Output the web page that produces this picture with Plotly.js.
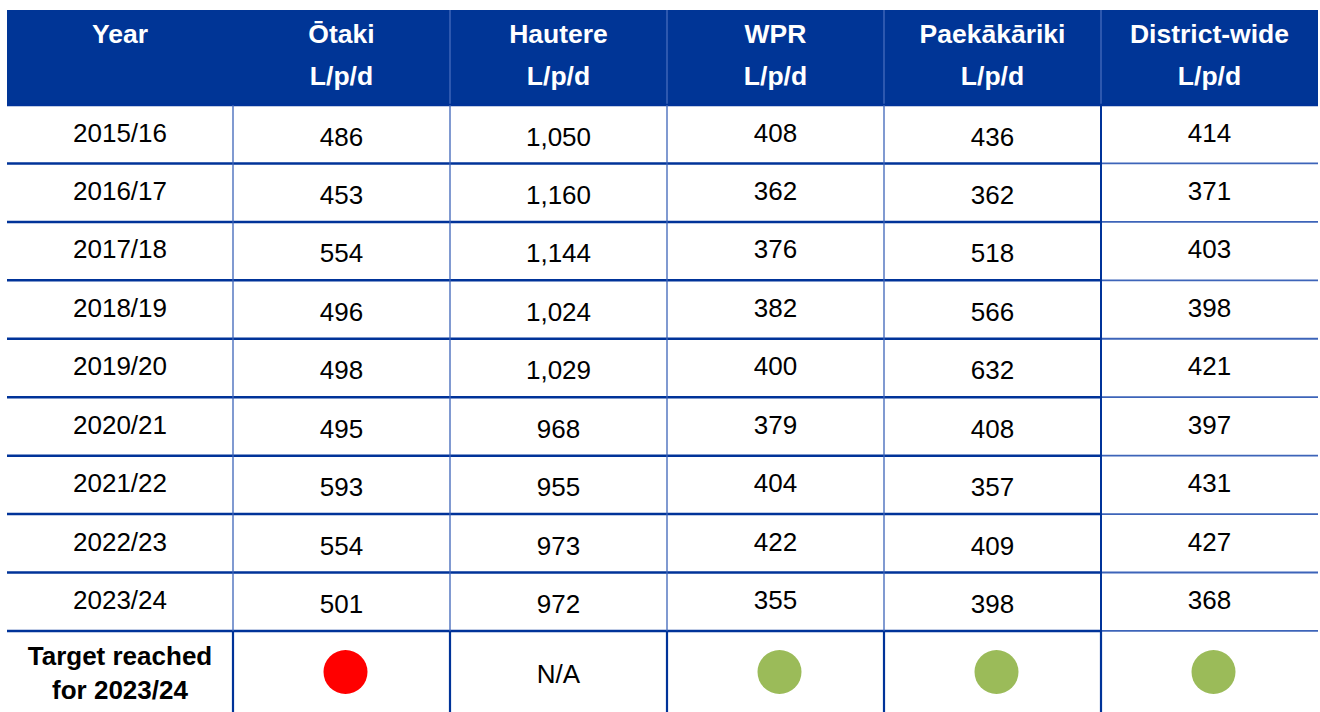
<!DOCTYPE html>
<html><head><meta charset="utf-8">
<script src="https://cdn.plot.ly/plotly-3.0.1.min.js"></script>
<style>html,body{margin:0;padding:0;background:#fff;}#chart{width:1320px;height:712px;}</style>
</head><body><div id="chart"></div>
<script>
// ---- data ----
const columns = ["Year", "Ōtaki", "Hautere", "WPR", "Paekākāriki", "District-wide"];
const units = ["", "L/p/d", "L/p/d", "L/p/d", "L/p/d", "L/p/d"];
const years = ["2015/16", "2016/17", "2017/18", "2018/19", "2019/20", "2020/21", "2021/22", "2022/23", "2023/24"];
const otaki = [486, 453, 554, 496, 498, 495, 593, 554, 501];
const hautere = [1050, 1160, 1144, 1024, 1029, 968, 955, 973, 972];
const wpr = [408, 362, 376, 382, 400, 379, 404, 422, 355];
const paekakariki = [436, 362, 518, 566, 632, 408, 357, 409, 398];
const districtWide = [414, 371, 403, 398, 421, 397, 431, 427, 368];
const targetLabel = "Target reached<br>for 2023/24";
const targetStatus = ["no", "N/A", "yes", "yes", "yes"]; // Ōtaki, Hautere, WPR, Paekākāriki, District-wide

// ---- style / geometry ----
const W = 1320, H = 712;
const X0 = 7;
const colW = [226, 217, 217, 217, 217, 217];
const HEAD_TOP = 10, HEAD_H = 95, ROW_H = 58.44, LAST_H = 110;
const FS = 26, HFS = 26.5;
const FONT = "Liberation Sans, Arial, sans-serif";
const HEAD_FILL = "#003596";
const DARK = "#003399", LIGHT = "#3d64b9", HEAD_LINE = "#5a7cc8";
const GREEN = "#9BBB59", RED = "#FF0000";
const baseOff = [36.5, 40.5, 40.5, 36.5, 40.5, 36.5]; // text baseline offset within row per column

const edges = [X0];
colW.forEach(w => edges.push(edges[edges.length - 1] + w));
const centers = colW.map((w, i) => edges[i] + w / 2);
const bodyTop = HEAD_TOP + HEAD_H;
const rowTop = i => bodyTop + i * ROW_H;
const lastTop = rowTop(years.length);
const yFromBaseline = (b, fs) => b - 0.25 * fs;

const fmt = v => v.toLocaleString("en-US");
const colValues = [years, otaki.map(fmt), hautere.map(fmt), wpr.map(fmt), paekakariki.map(fmt), districtWide.map(fmt)];

const traces = [];
// header text
traces.push({
  type: "scatter", mode: "text", hoverinfo: "skip", showlegend: false,
  x: centers, y: centers.map(() => yFromBaseline(HEAD_TOP + 32.5, HFS)),
  text: columns, textposition: "middle center",
  textfont: {family: FONT, size: HFS, color: "#ffffff", weight: "bold"}
});
traces.push({
  type: "scatter", mode: "text", hoverinfo: "skip", showlegend: false,
  x: centers, y: centers.map(() => yFromBaseline(HEAD_TOP + 75, HFS)),
  text: units, textposition: "middle center",
  textfont: {family: FONT, size: HFS, color: "#ffffff", weight: "bold"}
});
// body cells
colValues.forEach((vals, c) => {
  traces.push({
    type: "scatter", mode: "text", hoverinfo: "skip", showlegend: false,
    x: vals.map(() => centers[c]),
    y: vals.map((v, i) => yFromBaseline(rowTop(i) + baseOff[c], FS)),
    text: vals, textposition: "middle center",
    textfont: {family: FONT, size: FS, color: "#000000"}
  });
});
// last row label (two lines)
traces.push({
  type: "scatter", mode: "text", hoverinfo: "skip", showlegend: false,
  x: [centers[0]], y: [lastTop + 34 + 0.4 * FS],
  text: [targetLabel], textposition: "middle center",
  textfont: {family: FONT, size: FS, color: "#000000", weight: "bold"}
});
// N/A text cells
const naIdx = targetStatus.map((s, i) => s === "N/A" ? i : -1).filter(i => i >= 0);
traces.push({
  type: "scatter", mode: "text", hoverinfo: "skip", showlegend: false,
  x: naIdx.map(i => centers[i + 1]), y: naIdx.map(() => yFromBaseline(lastTop + 52, FS)),
  text: naIdx.map(i => targetStatus[i]), textposition: "middle center",
  textfont: {family: FONT, size: FS, color: "#000000"}
});
// status circles
const dotIdx = targetStatus.map((s, i) => s !== "N/A" ? i : -1).filter(i => i >= 0);
traces.push({
  type: "scatter", mode: "markers", hoverinfo: "skip", showlegend: false,
  x: dotIdx.map(i => centers[i + 1] + 4), y: dotIdx.map(() => lastTop + 41),
  marker: {size: 44, color: dotIdx.map(i => targetStatus[i] === "yes" ? GREEN : RED), line: {width: 0}}
});

// ---- shapes: header fill and grid lines ----
const shapes = [];
shapes.push({type: "rect", xref: "x", yref: "y", x0: X0, x1: edges[6], y0: HEAD_TOP, y1: bodyTop,
  fillcolor: HEAD_FILL, line: {width: 0}, layer: "below"});
for (let e = 2; e <= 5; e++) {
  shapes.push({type: "line", xref: "x", yref: "y", x0: edges[e], x1: edges[e], y0: HEAD_TOP, y1: bodyTop,
    line: {color: HEAD_LINE, width: 1}, layer: "below"});
}
for (let i = 0; i <= years.length; i++) {
  const y = rowTop(i);
  shapes.push({type: "line", xref: "x", yref: "y", x0: X0, x1: edges[5], y0: y, y1: y,
    line: {color: DARK, width: 2.5}, layer: "below"});
  shapes.push({type: "line", xref: "x", yref: "y", x0: edges[5], x1: edges[6], y0: y, y1: y,
    line: {color: i === 0 ? DARK : LIGHT, width: i === 0 ? 2.5 : 1.8}, layer: "below"});
}
for (let e = 1; e <= 5; e++) {
  shapes.push({type: "line", xref: "x", yref: "y", x0: edges[e], x1: edges[e], y0: bodyTop, y1: lastTop,
    line: {color: e === 5 ? DARK : LIGHT, width: e === 5 ? 2 : 1.3}, layer: "below"});
  shapes.push({type: "line", xref: "x", yref: "y", x0: edges[e], x1: edges[e], y0: lastTop, y1: lastTop + LAST_H,
    line: {color: DARK, width: 2.2}, layer: "below"});
}

const layout = {
  width: W, height: H,
  margin: {l: 0, r: 0, t: 0, b: 0, pad: 0},
  paper_bgcolor: "#ffffff", plot_bgcolor: "#ffffff",
  xaxis: {range: [0, W], visible: false, fixedrange: true},
  yaxis: {range: [H, 0], visible: false, fixedrange: true},
  shapes: shapes,
  showlegend: false
};
Plotly.newPlot("chart", traces, layout, {displayModeBar: false, staticPlot: true});
</script>
</body></html>
